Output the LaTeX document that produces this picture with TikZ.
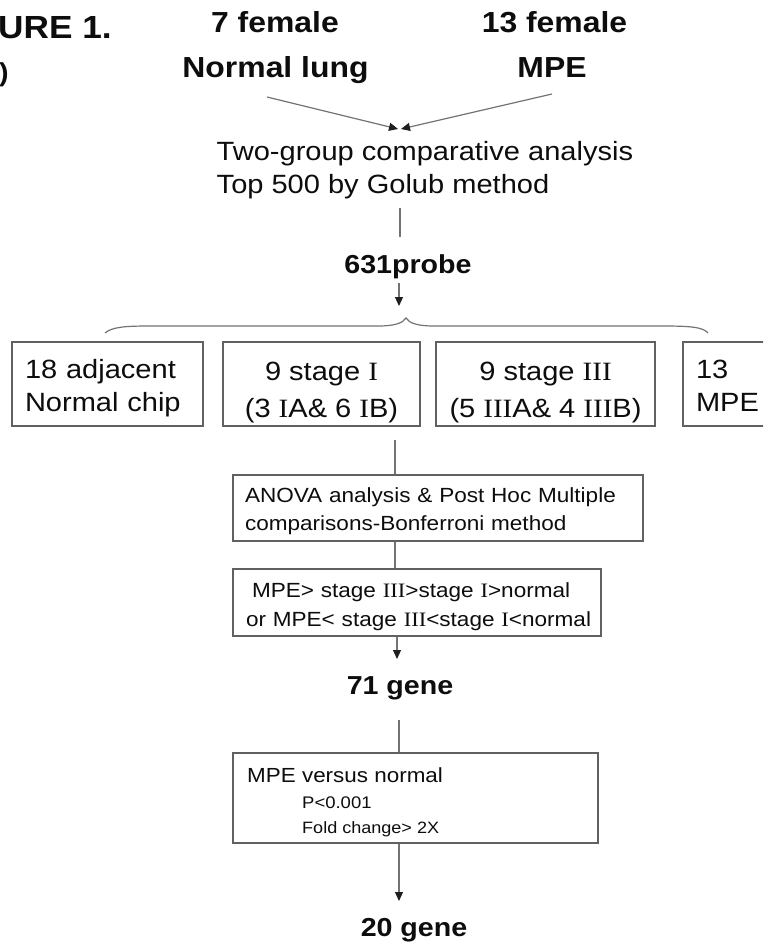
\documentclass[tikz,border=0pt]{standalone}
\usepackage{fontspec}
\setmainfont{Liberation Sans}[FakeStretch=1.1]
\newfontfamily\rmnum{Liberation Serif}[FakeStretch=1.1]
\usetikzlibrary{arrows.meta}
\newcommand{\RN}[1]{{\rmnum #1}}
\newcommand{\tops}[1]{\rule{0pt}{#1pt}}
\newcommand{\bots}[1]{\rule[-#1pt]{0pt}{#1pt}}
\begin{document}
\begin{tikzpicture}[x=1pt,y=-1pt,
  every node/.style={inner sep=0pt, text=black!95},
  box/.style={draw=black!62, line width=1.1pt, inner sep=0pt, font=\fontsize{26.4}{33}\selectfont},
  conn/.style={draw=black!55, line width=1.2pt},
  arr/.style={conn, -{Triangle[length=9pt,width=8pt,color=black!88]}},
  bigbold/.style={font=\fontsize{29}{34}\selectfont\bfseries, anchor=base},
  midbold/.style={font=\fontsize{26}{30}\selectfont\bfseries, anchor=base},
  plain/.style={font=\fontsize{26.4}{33}\selectfont, anchor=base west},
]
\clip (0,0) rectangle (763,947);
\fill[white] (0,0) rectangle (763,947);

% title fragments
\node[font=\fontsize{32}{36}\selectfont\bfseries, anchor=base west] (fig) at (-2,39) {URE 1.};
\node[font=\fontsize{26}{30}\selectfont\bfseries, anchor=base west] (par) at (-1,82) {)};

% top groups
\node[bigbold] (f7) at (275,33) {7 female};
\node[bigbold] (nl) at (275.5,78) {Normal lung};
\node[bigbold] (f13) at (554.5,33) {13 female};
\node[bigbold] (mpe) at (552,78) {MPE};

\coordinate (sL) at (267,97);
\coordinate (sR) at (552,94);
\coordinate (tL) at (398,129);
\coordinate (tR) at (401,129);
\draw[arr] (sL) -- (tL);
\draw[arr] (sR) -- (tR);

\node[plain] (tg1) at (216.5,160) {Two-group comparative analysis};
\node[plain] (tg2) at (216.5,193) {Top 500 by Golub method};

\coordinate (l1a) at (400,208);
\coordinate (l1b) at (400,237);
\draw[conn] (l1a) -- (l1b);

\node[midbold] (probe) at (408,273) {631probe};
\coordinate (p1) at (399,283);
\coordinate (p2) at (399,306);
\draw[arr] (p1) -- (p2);

% brace
\draw[conn] (105,333) .. controls (112,327) and (125,326) .. (150,326)
  -- (378,326) .. controls (395,326) and (403,323) .. (406,318)
  .. controls (409,323) and (417,326) .. (434,326)
  -- (662,326) .. controls (690,326) and (703,327) .. (708,333);

% group boxes
\node[box, minimum width=191, minimum height=84, text width=165, inner xsep=13, align=left] (b1) at (107.5,384) {\tops{31}18 adjacent\\Normal chip\bots{10}};
\node[box, font=\fontsize{26.4}{37}\selectfont, minimum width=197, minimum height=84, align=center] (b2) at (321.5,384) {\tops{35}9 stage \RN{I}\\(3 \RN{I}A\& 6 \RN{I}B)\bots{6}};
\node[box, font=\fontsize{26.4}{37}\selectfont, minimum width=219, minimum height=84, align=center] (b3) at (545.5,384) {\tops{35}9 stage \RN{III}\\(5 \RN{III}A\& 4 \RN{III}B)\bots{6}};
\node[box, minimum width=120, minimum height=84, text width=94, inner xsep=13, align=left] (b4) at (743,384) {\tops{31}13\\MPE\bots{10}};

% ANOVA
\node[box, font=\fontsize{20.5}{28}\selectfont, minimum width=410, minimum height=66, text width=386, inner xsep=12, align=left] (anova) at (438,508) {\tops{22}ANOVA analysis \& Post Hoc Multiple\\comparisons-Bonferroni method\bots{4}};
\coordinate (b2s) at (395,440);
\draw[conn] (b2s) -- (anova.north -| b2s);

% ordering box
\node[box, font=\fontsize{20.5}{29}\selectfont, minimum width=368, minimum height=67, text width=342, inner xsep=13, align=left] (order) at (417,602.5) {\tops{23}\mbox{\hspace*{6pt}MPE> stage \RN{III}>stage \RN{I}>normal}\\\mbox{or MPE< stage \RN{III}<stage \RN{I}<normal}\bots{4}};
\draw[conn] (anova.south -| b2s) -- (order.north -| b2s);

\coordinate (t71) at (397,659);
\draw[arr] (order.south -| t71) -- (t71);
\node[midbold] (g71) at (400,694) {71 gene};

% criteria box
\coordinate (c71) at (399,720);
\node[box, minimum width=365, minimum height=90] (crit) at (415.5,798) {};
\draw[conn] (c71) -- (crit.north -| c71);
\node[font=\fontsize{20.4}{26}\selectfont, anchor=base west] (cr1) at (247,782) {MPE versus normal};
\node[font=\fontsize{16.8}{22}\selectfont, anchor=base west] (cr2) at (302,808.5) {P<0.001};
\node[font=\fontsize{16.4}{22}\selectfont, anchor=base west] (cr3) at (302,833.5) {Fold change> 2X};

\coordinate (t20) at (399,901);
\draw[arr] (crit.south -| t20) -- (t20);
\node[midbold] (g20) at (414,936) {20 gene};
\end{tikzpicture}
\end{document}
